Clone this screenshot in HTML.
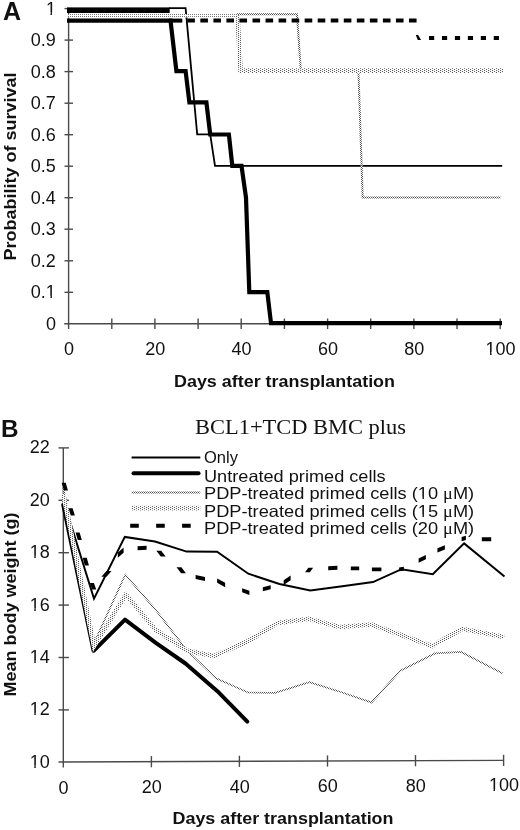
<!DOCTYPE html>
<html><head><meta charset="utf-8"><style>
html,body{margin:0;padding:0;background:#fff;}
svg{display:block;will-change:transform;}
text{font-family:"Liberation Sans",sans-serif;fill:#111;}
.n{font-size:18px;}
.pl{font-size:24.5px;font-weight:bold;}
.t{font-size:16px;font-weight:bold;}
.t2{font-size:17px;font-weight:bold;}
.sr{font-family:"Liberation Serif",serif;font-size:20.2px;}
.lg{font-size:16.5px;}
.mu{font-family:"Liberation Serif",serif;}
</style></head><body>
<svg width="520" height="830" viewBox="0 0 520 830">
<defs>
<pattern id="chk" width="2" height="2" patternUnits="userSpaceOnUse">
<rect x="0" y="0" width="2" height="2" fill="#fff"/><rect x="0" y="0" width="1" height="1" fill="#505050"/><rect x="1" y="1" width="1" height="1" fill="#505050"/>
</pattern>
<pattern id="lt" width="2" height="2" patternUnits="userSpaceOnUse">
<rect x="0" y="0" width="2" height="2" fill="#fff"/><rect x="0" y="0" width="1" height="1" fill="#777"/>
</pattern>
<pattern id="thk" width="4" height="2" patternUnits="userSpaceOnUse">
<rect x="0" y="0" width="4" height="2" fill="#f7f7f7"/><rect x="0" y="0" width="1" height="1" fill="#606060"/><rect x="2" y="1" width="1" height="1" fill="#606060"/>
</pattern>
</defs>
<rect width="520" height="830" fill="#fff"/>
<line x1="68.6" y1="8.6" x2="68.6" y2="329" stroke="#4a4a4a" stroke-width="1.4"/>
<line x1="64.2" y1="323.8" x2="500.7" y2="323.8" stroke="#4a4a4a" stroke-width="1.4"/>
<line x1="64.5" y1="292.3" x2="73" y2="292.3" stroke="#4a4a4a" stroke-width="1.4"/>
<line x1="64.5" y1="260.8" x2="73" y2="260.8" stroke="#4a4a4a" stroke-width="1.4"/>
<line x1="64.5" y1="229.2" x2="73" y2="229.2" stroke="#4a4a4a" stroke-width="1.4"/>
<line x1="64.5" y1="197.7" x2="73" y2="197.7" stroke="#4a4a4a" stroke-width="1.4"/>
<line x1="64.5" y1="166.2" x2="73" y2="166.2" stroke="#4a4a4a" stroke-width="1.4"/>
<line x1="64.5" y1="134.7" x2="73" y2="134.7" stroke="#4a4a4a" stroke-width="1.4"/>
<line x1="64.5" y1="103.2" x2="73" y2="103.2" stroke="#4a4a4a" stroke-width="1.4"/>
<line x1="64.5" y1="71.6" x2="73" y2="71.6" stroke="#4a4a4a" stroke-width="1.4"/>
<line x1="64.5" y1="40.1" x2="73" y2="40.1" stroke="#4a4a4a" stroke-width="1.4"/>
<line x1="64.5" y1="8.6" x2="73" y2="8.6" stroke="#4a4a4a" stroke-width="1.4"/>
<line x1="111.8" y1="318.5" x2="111.8" y2="329" stroke="#4a4a4a" stroke-width="1.4"/>
<line x1="154.9" y1="318.5" x2="154.9" y2="329" stroke="#4a4a4a" stroke-width="1.4"/>
<line x1="198.1" y1="318.5" x2="198.1" y2="329" stroke="#4a4a4a" stroke-width="1.4"/>
<line x1="241.2" y1="318.5" x2="241.2" y2="329" stroke="#4a4a4a" stroke-width="1.4"/>
<line x1="284.4" y1="318.5" x2="284.4" y2="329" stroke="#4a4a4a" stroke-width="1.4"/>
<line x1="327.6" y1="318.5" x2="327.6" y2="329" stroke="#4a4a4a" stroke-width="1.4"/>
<line x1="370.7" y1="318.5" x2="370.7" y2="329" stroke="#4a4a4a" stroke-width="1.4"/>
<line x1="413.9" y1="318.5" x2="413.9" y2="329" stroke="#4a4a4a" stroke-width="1.4"/>
<line x1="457.0" y1="318.5" x2="457.0" y2="329" stroke="#4a4a4a" stroke-width="1.4"/>
<line x1="500.2" y1="318.5" x2="500.2" y2="329" stroke="#4a4a4a" stroke-width="1.4"/>
<text x="55.9" y="329.7" class="n" text-anchor="end">0</text>
<text x="55.9" y="298.2" class="n" text-anchor="end">0.1</text>
<text x="55.9" y="266.7" class="n" text-anchor="end">0.2</text>
<text x="55.9" y="235.1" class="n" text-anchor="end">0.3</text>
<text x="55.9" y="203.6" class="n" text-anchor="end">0.4</text>
<text x="55.9" y="172.1" class="n" text-anchor="end">0.5</text>
<text x="55.9" y="140.6" class="n" text-anchor="end">0.6</text>
<text x="55.9" y="109.1" class="n" text-anchor="end">0.7</text>
<text x="55.9" y="77.5" class="n" text-anchor="end">0.8</text>
<text x="55.9" y="46.0" class="n" text-anchor="end">0.9</text>
<text x="55.9" y="14.5" class="n" text-anchor="end">1</text>
<text x="68.9" y="355.4" class="n" text-anchor="middle">0</text>
<text x="155.2" y="355.2" class="n" text-anchor="middle">20</text>
<text x="241.5" y="355.0" class="n" text-anchor="middle">40</text>
<text x="327.9" y="354.9" class="n" text-anchor="middle">60</text>
<text x="414.2" y="354.7" class="n" text-anchor="middle">80</text>
<text x="500.5" y="354.5" class="n" text-anchor="middle">100</text>
<text x="3.1" y="19.6" class="pl" style="font-size:25px">A</text>
<text x="174" y="386.5" class="t" textLength="221" lengthAdjust="spacingAndGlyphs">Days after transplantation</text>
<text transform="translate(16,260.5) rotate(-90)" class="t2" textLength="188" lengthAdjust="spacingAndGlyphs">Probability of survival</text>
<rect x="67" y="7.4" width="102.7" height="5.6" fill="#000"/>
<polyline points="169.0,8.2 185.6,8.2 197.2,134.3 210.2,134.3 215.0,165.8 502.2,165.8" fill="none" stroke="#000" stroke-width="1.8"/>
<polyline points="237.0,14.3 297.0,14.3 300.8,70.5 358.4,70.5 362.7,197.6 500.5,197.6" fill="none" stroke="url(#chk)" stroke-width="2"/>
<polyline points="67.0,15.8 237.4,15.8" fill="none" stroke="url(#lt)" stroke-width="3.6"/>
<polyline points="237.4,15.0 240.6,70.6 503.3,70.6" fill="none" stroke="url(#thk)" stroke-width="4.6"/>
<polyline points="67.0,20.6 170.5,20.6 176.4,71.1 185.6,71.1 189.4,102.4 206.4,102.4 210.2,134.5 228.9,134.5 232.3,165.8 241.5,165.8 246.0,197.7 249.3,292.1 267.3,292.1 271.0,323.2 502.0,323.2" fill="none" stroke="#000" stroke-width="4.2" stroke-linejoin="miter"/>
<rect x="169" y="18.6" width="13.3" height="4" fill="#000"/>
<line x1="187.3" y1="20.5" x2="417.2" y2="20.5" stroke="#000" stroke-width="4" stroke-dasharray="7.6 5.44"/>
<polygon points="415.8,35 418.2,35 421,40 417.8,40" fill="#000"/>
<line x1="429" y1="37.9" x2="499" y2="37.9" stroke="#000" stroke-width="4" stroke-dasharray="5.2 7.75"/>
<line x1="63.3" y1="447.9" x2="63.3" y2="767.4" stroke="#4a4a4a" stroke-width="1.4"/>
<line x1="58.5" y1="762" x2="503.6" y2="760.4" stroke="#4a4a4a" stroke-width="1.4"/>
<line x1="58.5" y1="709.9" x2="68.9" y2="709.9" stroke="#4a4a4a" stroke-width="1.4"/>
<line x1="58.5" y1="657.5" x2="68.9" y2="657.5" stroke="#4a4a4a" stroke-width="1.4"/>
<line x1="58.5" y1="605.1" x2="68.9" y2="605.1" stroke="#4a4a4a" stroke-width="1.4"/>
<line x1="58.5" y1="552.7" x2="68.9" y2="552.7" stroke="#4a4a4a" stroke-width="1.4"/>
<line x1="58.5" y1="500.3" x2="68.9" y2="500.3" stroke="#4a4a4a" stroke-width="1.4"/>
<line x1="58.5" y1="447.9" x2="68.9" y2="447.9" stroke="#4a4a4a" stroke-width="1.4"/>
<line x1="151.4" y1="756.1" x2="151.4" y2="767.3" stroke="#4a4a4a" stroke-width="1.4"/>
<line x1="239.4" y1="755.7" x2="239.4" y2="766.9" stroke="#4a4a4a" stroke-width="1.4"/>
<line x1="327.5" y1="755.4" x2="327.5" y2="766.6" stroke="#4a4a4a" stroke-width="1.4"/>
<line x1="415.5" y1="755.1" x2="415.5" y2="766.3" stroke="#4a4a4a" stroke-width="1.4"/>
<line x1="503.6" y1="754.8" x2="503.6" y2="766.0" stroke="#4a4a4a" stroke-width="1.4"/>
<text x="49.7" y="767.8" class="n" text-anchor="end">10</text>
<text x="49.7" y="715.4" class="n" text-anchor="end">12</text>
<text x="49.7" y="663.0" class="n" text-anchor="end">14</text>
<text x="49.7" y="610.6" class="n" text-anchor="end">16</text>
<text x="49.7" y="558.2" class="n" text-anchor="end">18</text>
<text x="49.7" y="505.8" class="n" text-anchor="end">20</text>
<text x="49.7" y="453.4" class="n" text-anchor="end">22</text>
<text x="63.6" y="793.6" class="n" text-anchor="middle">0</text>
<text x="151.7" y="793.2" class="n" text-anchor="middle">20</text>
<text x="239.7" y="792.7" class="n" text-anchor="middle">40</text>
<text x="327.8" y="792.3" class="n" text-anchor="middle">60</text>
<text x="415.8" y="791.8" class="n" text-anchor="middle">80</text>
<text x="503.9" y="791.4" class="n" text-anchor="middle">100</text>
<text x="1.1" y="437.4" class="pl" style="font-size:24.3px">B</text>
<text x="195" y="433.8" class="sr" textLength="211" lengthAdjust="spacingAndGlyphs">BCL1+TCD BMC plus</text>
<text x="172.5" y="824" class="t" textLength="221" lengthAdjust="spacingAndGlyphs">Days after transplantation</text>
<text transform="translate(16,696.5) rotate(-90)" class="t2" textLength="184" lengthAdjust="spacingAndGlyphs">Mean body weight (g)</text>
<line x1="131.6" y1="457.4" x2="200.3" y2="457.4" stroke="#000" stroke-width="2"/>
<line x1="133.5" y1="473.2" x2="198.6" y2="473.2" stroke="#000" stroke-width="3.9" stroke-linecap="round"/>
<line x1="131.6" y1="492.6" x2="200.3" y2="492.6" stroke="url(#chk)" stroke-width="2"/>
<line x1="131.6" y1="508.1" x2="200.3" y2="508.1" stroke="url(#thk)" stroke-width="4.6"/>
<line x1="130.2" y1="525.8" x2="200.3" y2="525.8" stroke="#000" stroke-width="3.9" stroke-dasharray="8.6 17.35"/>
<text x="204" y="463.2" class="lg">Only</text>
<text x="204" y="481.5" class="lg" textLength="181.6" lengthAdjust="spacingAndGlyphs">Untreated primed cells</text>
<text x="204" y="499.2" class="lg" textLength="270.2" lengthAdjust="spacingAndGlyphs">PDP-treated primed cells (10 <tspan class='mu'>μ</tspan>M)</text>
<text x="204" y="517" class="lg" textLength="270.2" lengthAdjust="spacingAndGlyphs">PDP-treated primed cells (15 <tspan class='mu'>μ</tspan>M)</text>
<text x="204" y="534.2" class="lg" textLength="270.2" lengthAdjust="spacingAndGlyphs">PDP-treated primed cells (20 <tspan class='mu'>μ</tspan>M)</text>
<polyline points="63.3,505.0 93.6,650.8 125.0,619.7 155.8,642.8 185.5,663.5 217.4,691.2 247.3,721.6" fill="none" stroke="#000" stroke-width="4" stroke-linejoin="round" stroke-linecap="round"/>
<polyline points="63.3,500.0 94.0,598.7 124.8,536.9 155.0,541.6 186.6,551.6 217.1,551.8 248.3,573.7 279.4,584.0 310.3,590.5 342.3,586.3 373.0,582.1 401.5,569.2 432.8,574.3 464.1,543.4 504.5,576.6" fill="none" stroke="#000" stroke-width="2" stroke-linejoin="miter"/>
<polyline points="63.3,488.0 94.0,643.0 125.3,574.7 155.8,610.0 186.6,650.0 216.0,678.3 248.0,692.5 275.0,692.9 309.5,682.1 340.7,692.0 371.5,702.4 400.4,670.7 435.0,653.4 461.0,651.9 502.8,673.6" fill="none" stroke="url(#chk)" stroke-width="1.7"/>
<polyline points="63.3,494.0 94.0,646.0 125.8,594.6 155.8,630.0 186.6,650.5 214.0,656.0 248.2,641.0 277.7,622.9 308.7,618.8 339.6,627.0 371.5,624.5 402.3,635.4 432.1,646.1 462.4,628.8 504.2,636.9" fill="none" stroke="url(#thk)" stroke-width="4.6"/>
<path d="M61.66 482.82L65.72 482.82L67.94 490.48L63.88 490.48Z M68.54 508.22L72.62 508.22L74.86 515.48L70.78 515.48Z M75.56 532.42L79.62 532.42L81.84 540.08L77.78 540.08Z M82.65 557.82L86.72 557.82L88.95 565.38L84.88 565.38Z M89.80 582.92L93.93 582.92L96.20 589.38L92.07 589.38Z M101.38 576.80L106.50 576.80L111.52 570.90L106.40 570.90Z M117.80 552.66L117.80 557.87L123.60 552.74L123.60 547.53Z M137.60 546.27L137.60 550.17L146.60 549.73L146.60 545.83Z M156.32 550.68L161.20 550.68L165.68 556.62L160.80 556.62Z M176.53 567.18L181.39 567.18L185.97 573.32L181.11 573.32Z M195.61 574.91L195.61 578.91L204.99 581.09L204.99 577.09Z M217.15 578.38L217.15 582.83L225.15 587.22L225.15 582.77Z M242.12 588.18L242.12 592.34L249.38 595.02L249.38 590.86Z M262.81 587.29L262.81 591.31L270.69 589.31L270.69 585.29Z M283.67 580.36L283.67 585.09L290.63 580.34L290.63 575.61Z M305.07 572.22L309.87 572.22L313.13 567.68L308.33 567.68Z M328.20 566.27L328.20 570.18L337.40 569.63L337.40 565.72Z M350.80 566.45L350.80 570.35L359.20 570.35L359.20 566.45Z M371.90 567.45L371.90 571.35L381.40 571.35L381.40 567.45Z M399.10 567.38L399.10 571.31L403.90 570.72L403.90 566.79Z M418.64 558.50L418.64 562.85L425.86 559.30L425.86 554.95Z M437.43 548.34L437.43 552.57L444.87 549.46L444.87 545.23Z M461.62 537.08L461.62 541.14L465.88 539.92L465.88 535.86Z M481.80 537.35L481.80 541.25L491.20 541.25L491.20 537.35Z" fill="#000"/>
<rect x="46.23" y="295.67" width="4.24" height="3.33" fill="#fff"/>
<rect x="51.95" y="295.67" width="3.61" height="3.33" fill="#fff"/>
<rect x="46.24" y="11.97" width="4.23" height="3.33" fill="#fff"/>
<rect x="51.95" y="11.97" width="3.60" height="3.33" fill="#fff"/>
<rect x="485.84" y="351.97" width="4.23" height="3.33" fill="#fff"/>
<rect x="491.55" y="351.97" width="3.60" height="3.33" fill="#fff"/>
<rect x="30.03" y="765.27" width="4.23" height="3.33" fill="#fff"/>
<rect x="35.74" y="765.27" width="3.60" height="3.33" fill="#fff"/>
<rect x="30.03" y="712.87" width="4.23" height="3.33" fill="#fff"/>
<rect x="35.74" y="712.87" width="3.60" height="3.33" fill="#fff"/>
<rect x="30.03" y="660.47" width="4.23" height="3.33" fill="#fff"/>
<rect x="35.74" y="660.47" width="3.60" height="3.33" fill="#fff"/>
<rect x="30.03" y="608.07" width="4.23" height="3.33" fill="#fff"/>
<rect x="35.74" y="608.07" width="3.60" height="3.33" fill="#fff"/>
<rect x="30.03" y="555.67" width="4.23" height="3.33" fill="#fff"/>
<rect x="35.74" y="555.67" width="3.60" height="3.33" fill="#fff"/>
<rect x="489.24" y="788.87" width="4.23" height="3.33" fill="#fff"/>
<rect x="494.95" y="788.87" width="3.60" height="3.33" fill="#fff"/>
<rect x="418.14" y="496.80" width="4.30" height="3.20" fill="#fff"/>
<rect x="423.94" y="496.80" width="3.66" height="3.20" fill="#fff"/>
<rect x="418.14" y="514.60" width="4.30" height="3.20" fill="#fff"/>
<rect x="423.94" y="514.60" width="3.66" height="3.20" fill="#fff"/>
</svg>
</body></html>
